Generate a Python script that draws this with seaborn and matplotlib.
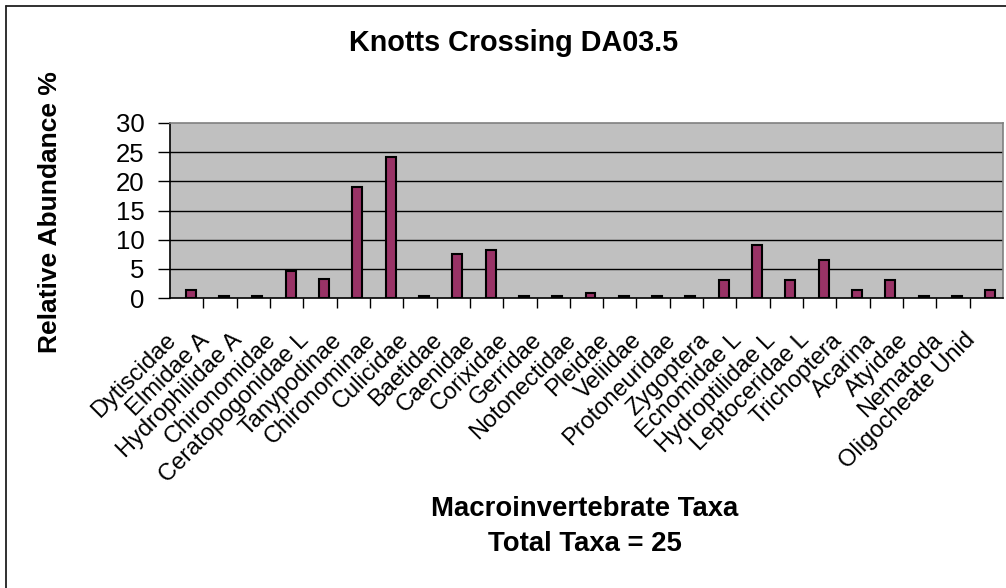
import matplotlib
matplotlib.use("Agg")
import matplotlib.pyplot as plt
from matplotlib.lines import Line2D
from matplotlib.ticker import FixedLocator
from matplotlib.transforms import ScaledTranslation
import seaborn as sns
import pandas as pd
import numpy as np

# Dados
taxa = [
    "Dytiscidae", "Elmidae A", "Hydrophilidae A", "Chironomidae",
    "Ceratopogonidae L", "Tanypodinae", "Chironominae", "Culicidae",
    "Baetidae", "Caenidae", "Corixidae", "Gerridae", "Notonectidae",
    "Pleidae", "Veliidae", "Protoneuridae", "Zygoptera", "Ecnomidae L",
    "Hydroptilidae L", "Leptoceridae L", "Trichoptera", "Acarina",
    "Atyidae", "Nematoda", "Oligocheate Unid",
]
abundancia = [
    1.3, 0.4, 0.4, 4.7, 3.2, 19.1, 24.1, 0.4, 7.6, 8.2, 0.4, 0.4, 0.9,
    0.4, 0.4, 0.4, 3.1, 9.1, 3.1, 6.6, 1.3, 3.1, 0.4, 0.4, 1.3,
]
y_ticks = [0, 5, 10, 15, 20, 25, 30]

df = pd.DataFrame({"taxa": taxa, "abundancia": abundancia})

sns.set_style("white", {"axes.facecolor": "#C0C0C0"})
plt.rcParams["font.family"] = ["Liberation Sans", "DejaVu Sans"]
plt.rcParams["text.color"] = "black"
plt.rcParams["xtick.color"] = "black"
plt.rcParams["ytick.color"] = "black"

W, H = 1006, 588
fig = plt.figure(figsize=(W / 100, H / 100), dpi=100)
ax = fig.add_axes([170 / W, 1 - 298 / H, (1003 - 170) / W, (298 - 123) / H])

sns.barplot(
    data=df, x="taxa", y="abundancia", ax=ax,
    color="#993366", saturation=1, width=0.3,
    edgecolor="black", linewidth=1.5,
)
# no original as barras ficam um pouco à direita do centro da categoria
desloc_barras = ScaledTranslation(4 / 100, 0, fig.dpi_scale_trans)
for barra in ax.patches:
    barra.set_transform(ax.transData + desloc_barras)

ax.set_xlim(-0.5, len(taxa) - 0.5)
ax.set_ylim(0, 30)
ax.set_yticks(y_ticks)
ax.set_yticklabels([str(v) for v in y_ticks], fontsize=18.5)
for v in y_ticks[1:-1]:
    ax.axhline(v, color="black", linewidth=1, zorder=0.5)
ax.set_axisbelow(True)

# rótulos do eixo x
ax.set_xticks(range(len(taxa)))
ax.set_xticklabels(taxa, rotation=45, ha="right", rotation_mode="anchor", fontsize=17)
ax.tick_params(axis="x", which="major", length=0, pad=8)
ax.xaxis.set_minor_locator(FixedLocator(np.arange(0.5, len(taxa) - 0.5, 1)))
ax.tick_params(axis="x", which="minor", bottom=True, length=7, width=1, color="black")
ax.tick_params(axis="y", left=True, length=9, width=1, color="black", pad=9.5)

# desloca os rótulos (depois do tick_params, que redefine a transformação)
desloc = ScaledTranslation(-22 / 100, -20 / 100, fig.dpi_scale_trans)
for lbl in ax.get_xticklabels():
    lbl.set_transform(lbl.get_transform() + desloc)

ax.set_xlabel("")
ax.set_ylabel("")
for lado in ["left", "bottom"]:
    ax.spines[lado].set_color("black")
    ax.spines[lado].set_linewidth(1.2)
for lado in ["top", "right"]:
    ax.spines[lado].set_visible(True)
    ax.spines[lado].set_color("#808080")
    ax.spines[lado].set_linewidth(1.2)

# textos
fig.text(514 / W, 1 - 43 / H, "Knotts Crossing DA03.5", ha="center", va="center",
         fontsize=20.7, fontweight="bold")
fig.text(50 / W, 1 - 212 / H, "Relative Abundance %", ha="center", va="center",
         rotation=90, fontsize=19, fontweight="bold")
fig.text(585 / W, 1 - 509 / H, "Macroinvertebrate Taxa", ha="center", va="center",
         fontsize=19.8, fontweight="bold")
fig.text(585 / W, 1 - 544 / H, "Total Taxa = 25", ha="center", va="center",
         fontsize=19.8, fontweight="bold")

# moldura
fig.add_artist(Line2D([6 / W, 6 / W], [0, 1 - 6 / H], color="#202020", linewidth=1.3))
fig.add_artist(Line2D([6 / W, 1], [1 - 6 / H, 1 - 6 / H], color="#202020", linewidth=1.3))

fig.savefig("out.png", dpi=100)
